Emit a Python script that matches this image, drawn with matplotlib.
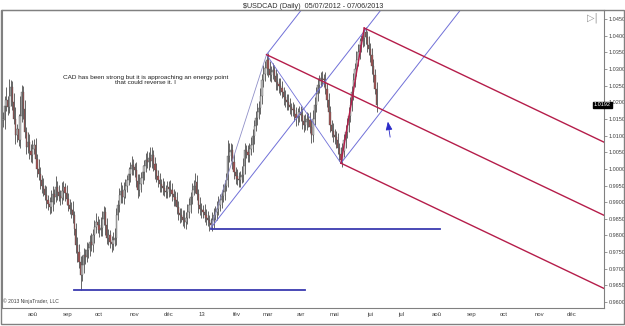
import numpy as np
import pandas as pd
import matplotlib
matplotlib.use("Agg")
import matplotlib.pyplot as plt
from matplotlib.patches import Rectangle

# daily closes of USD/CAD in pips (0.0001), 05/07/2012 .. 07/06/2013
close = [
    10147, 10190, 10207, 10185, 10220, 10246, 10200, 10150, 10102, 10120,
    10087, 10160, 10231, 10180, 10110, 10066, 10080, 10055, 10042, 10060,
    10072, 10030, 10000, 9985, 9967, 9950, 9940, 9922, 9905, 9895,
    9886, 9900, 9925, 9915, 9946, 9930, 9920, 9913, 9935, 9945,
    9928, 9910, 9892, 9880, 9875, 9862, 9820, 9772, 9750, 9721,
    9682, 9710, 9742, 9735, 9755, 9763, 9780, 9770, 9802, 9825,
    9841, 9830, 9815, 9823, 9850, 9871, 9830, 9793, 9800, 9781,
    9775, 9785, 9793, 9862, 9890, 9922, 9935, 9915, 9937, 9950,
    9967, 9985, 10000, 10012, 10005, 9997, 9965, 9937, 9955, 9973,
    9990, 10010, 10027, 10020, 10033, 10025, 10042, 10015, 9997, 9980,
    9967, 9955, 9950, 9943, 9935, 9931, 9945, 9940, 9937, 9925,
    9915, 9907, 9885, 9868, 9860, 9855, 9847, 9840, 9853, 9870,
    9892, 9915, 9937, 9950, 9961, 9925, 9892, 9880, 9875, 9871,
    9860, 9853, 9845, 9838, 9832, 9845, 9862, 9870, 9880, 9892,
    9905, 9920, 9931, 9950, 9967, 10040, 10050, 10057, 10020, 9991,
    9980, 9970, 9967, 9975, 9982, 10010, 10057, 10050, 10042, 10060,
    10072, 10100, 10130, 10153, 10170, 10183, 10220, 10267, 10285, 10303,
    10327, 10300, 10282, 10290, 10297, 10280, 10261, 10255, 10250, 10243,
    10230, 10215, 10207, 10200, 10192, 10185, 10180, 10177, 10165, 10153,
    10160, 10170, 10162, 10145, 10132, 10140, 10150, 10147, 10125, 10102,
    10150, 10192, 10225, 10252, 10265, 10273, 10270, 10267, 10240, 10207,
    10170, 10132, 10115, 10102, 10095, 10087, 10063, 10045, 10027, 10055,
    10087, 10110, 10132, 10160, 10192, 10230, 10267, 10300, 10327, 10350,
    10372, 10385, 10393, 10411, 10395, 10372, 10360, 10342, 10310, 10282,
    10240, 10192,
]
# upper / lower shadows beyond the body, in units of 2 pips
wick_up = [
    12, 15, 20, 6, 25, 10, 9, 14, 18, 7,
    22, 30, 11, 9, 13, 8, 16, 12, 10, 14,
    9, 11, 7, 15, 10, 8, 12, 6, 14, 9,
    10, 18, 12, 7, 16, 9, 11, 8, 13, 10,
    7, 12, 9, 8, 10, 14, 6, 9, 11, 12,
    8, 15, 10, 9, 12, 7, 11, 14, 9, 10,
    13, 8, 10, 16, 12, 9, 7, 11, 10, 8,
    9, 12, 14, 10, 8, 11, 13, 9, 12, 10,
    8, 11, 10, 14, 9, 7, 12, 10, 15, 9,
    11, 8, 10, 13, 9, 16, 12, 8, 10, 11,
    9, 10, 7, 12, 11, 8, 10, 9, 13, 10,
    8, 10, 12, 9, 7, 11, 10, 14, 9, 12,
    10, 8, 11, 9, 13, 10, 7, 12, 9, 8,
    11, 9, 10, 8, 7, 12, 10, 9, 11, 13,
    10, 9, 12, 8, 11, 23, 14, 10, 9, 12,
    8, 10, 11, 9, 13, 12, 10, 8, 11, 9,
    12, 10, 9, 11, 14, 10, 12, 9, 13, 11,
    8, 10, 12, 9, 11, 8, 10, 13, 9, 12,
    10, 8, 11, 9, 12, 10, 7, 11, 9, 10,
    12, 9, 10, 11, 8, 13, 10, 9, 12, 11,
    14, 12, 10, 11, 9, 9, 10, 8, 12, 9,
    11, 10, 8, 12, 9, 10, 11, 7, 10, 12,
    9, 11, 10, 13, 12, 10, 11, 9, 14, 12,
    10, 9, 11, 6, 8, 10, 13, 9, 11, 10,
    9, 10,
]
wick_dn = [
    10, 14, 8, 12, 9, 16, 11, 7, 13, 10,
    9, 12, 10, 15, 8, 11, 9, 13, 10, 12,
    8, 10, 12, 9, 14, 11, 10, 8, 12, 9,
    11, 9, 13, 10, 8, 12, 9, 11, 10, 14,
    12, 9, 10, 8, 11, 13, 9, 12, 15, 10,
    23, 9, 12, 10, 8, 11, 13, 9, 10, 12,
    9, 11, 10, 8, 12, 9, 14, 10, 11, 9,
    12, 10, 9, 11, 8, 10, 12, 9, 11, 13,
    10, 8, 12, 9, 11, 10, 9, 13, 10, 12,
    9, 11, 10, 8, 12, 9, 11, 10, 13, 9,
    10, 12, 9, 11, 8, 10, 9, 12, 10, 11,
    13, 9, 10, 11, 12, 8, 10, 9, 11, 10,
    9, 12, 10, 8, 11, 10, 13, 9, 12, 10,
    10, 11, 9, 12, 5, 10, 11, 8, 12, 10,
    9, 11, 10, 12, 8, 10, 9, 13, 10, 11,
    12, 9, 10, 11, 8, 10, 12, 9, 11, 10,
    9, 10, 12, 8, 11, 10, 9, 12, 10, 11,
    10, 12, 9, 11, 10, 8, 12, 9, 11, 10,
    9, 11, 10, 12, 8, 10, 11, 9, 10, 12,
    11, 10, 9, 12, 10, 8, 11, 10, 9, 12,
    10, 9, 11, 10, 12, 9, 10, 11, 8, 10,
    12, 10, 9, 11, 10, 12, 9, 10, 5, 11,
    10, 12, 9, 11, 10, 9, 12, 10, 11, 9,
    10, 11, 9, 12, 10, 11, 9, 10, 12, 10,
    8, 10,
]

# pitchfork pivots (bar index, which extreme)
blue_piv = [(134, "low"), (170, "high"), (218, "low")]
red_piv = [(170, "high"), (218, "low"), (233, "high")]

# horizontal support lines: (price, start bar, end bar)
support = [(0.9637, 46, 195), (0.9818, 134, 282)]

month_names = ["jan", "fév", "mar", "avr", "mai", "jui",
               "jul", "aoû", "sep", "oct", "nov", "déc"]

note = "CAD has been strong but it is approaching an energy point\nthat could reverse it. I"

c = np.array(close) / 10000.0
o = np.r_[c[0], c[:-1]]
hi = np.maximum(o, c) + np.array(wick_up) * 0.0002
lo = np.minimum(o, c) - np.array(wick_dn) * 0.0002
n = len(c)
x = np.arange(n)

dates = pd.bdate_range("2012-07-05", periods=400)

fig = plt.figure(figsize=(6.25, 3.26), dpi=100)
ax = fig.add_axes([2 / 625, 18 / 326, 602 / 625, 298 / 326])

# candles
ax.vlines(x, lo, hi, color="#2a2a2a", lw=0.5, zorder=2)
up = c >= o
body = np.where(np.abs(c - o) < 0.0002, 0.0002, c - o)
ax.bar(x[up], body[up], bottom=o[up], width=0.8, color="#bdbdbd",
       edgecolor="#505050", linewidth=0.25, zorder=3)
ax.bar(x[~up], body[~up], bottom=o[~up], width=0.8, color="#a05050",
       edgecolor="#505050", linewidth=0.25, zorder=3)

blue_thin = "#7070d8"
red = "#b51d4a"


def fork(piv, color, lw):
    px = np.array([p[0] for p in piv], dtype=float)
    py = np.array([hi[i] if kind == "high" else lo[i] for i, kind in piv])
    mx, my = (px[1] + px[2]) / 2, (py[1] + py[2]) / 2
    slope = (my - py[0]) / (mx - px[0])
    xe = 420
    for i in range(3):
        ax.plot([px[i], xe], [py[i], py[i] + slope * (xe - px[i])],
                color=color, lw=lw, zorder=4)
    return px, py


bx, by = fork(blue_piv, blue_thin, 0.7)
ax.plot([bx[0], bx[1]], [by[0], by[1]], color="#9090c8", lw=0.6, zorder=4)
ax.plot([bx[1], bx[2]], [by[1], by[2]], color=blue_thin, lw=0.6, zorder=4)
rx, ry = fork(red_piv, red, 1.0)
ax.plot([rx[1], rx[2]], [ry[1], ry[2]], color=red, lw=1.0, zorder=4)

for lvl, x0, x1 in support:
    ax.plot([x0, x1], [lvl, lvl], color="#3a3ab0", lw=1.3, zorder=4)

# arrow pointing at the lower tine
ax.annotate("", xy=(248, 1.0150), xytext=(250, 1.0087),
            arrowprops=dict(arrowstyle="-|>,head_length=0.5,head_width=0.2",
                            color="#2b2bc8", lw=0.6))

ax.text(92, 1.0268, note, ha="center", va="center", fontsize=4.6,
        family="Liberation Sans", color="#202020", linespacing=1.0)

ax.set_xlim(-0.65, 387.7)
ax.set_ylim(0.95822, 1.04770)

# month ticks
mt, ml = [], []
for i in range(1, 388):
    if dates[i].month != dates[i - 1].month:
        mt.append(i)
        ml.append("13" if dates[i].month == 1 else month_names[dates[i].month - 1])
ax.set_xticks(mt)
ax.set_xticklabels(ml)
ax.tick_params(axis="x", length=0, pad=3, labelsize=4.3, labelcolor="#404040")

ax.yaxis.tick_right()
ax.set_yticks(np.arange(0.9600, 1.0451, 0.005))
ax.set_yticklabels([f"{v:.4f}" for v in np.arange(0.9600, 1.0451, 0.005)])
ax.tick_params(axis="y", length=2.5, width=0.5, color="#707070", pad=1,
               labelsize=4.0, labelcolor="#404040")
for lab in ax.get_xticklabels() + ax.get_yticklabels():
    lab.set_family("Liberation Sans")

for s in ax.spines.values():
    s.set_color("#808080")
    s.set_linewidth(0.8)

# last price marker
ax.text(1.0 - 10 / 602, c[-1], f"{c[-1]:.4f}", transform=ax.get_yaxis_transform(),
        ha="left", va="center", fontsize=4.0, color="white", family="Liberation Sans",
        bbox=dict(boxstyle="square,pad=0.15", fc="black", ec="black"), zorder=6,
        clip_on=False)

ax.text(0.002, 0.012, "© 2013 NinjaTrader, LLC", transform=ax.transAxes,
        fontsize=3.6, color="#404040", family="Liberation Sans", va="bottom")

fig.text(592 / 625, 1 - 18 / 326, "▷|", fontsize=7, color="#909090",
         ha="center", va="center")
fig.text(313 / 625, 1 - 6 / 326, "$USDCAD (Daily)  05/07/2012 - 07/06/2013",
         fontsize=5.2, ha="center", va="center", color="#303030",
         family="Liberation Sans")

fig.add_artist(Rectangle((0.6 / 625, 2 / 326), 623.5 / 625, 314 / 326,
                         transform=fig.transFigure, fill=False,
                         ec="#808080", lw=1.0))

fig.savefig("out.png", dpi=100)
